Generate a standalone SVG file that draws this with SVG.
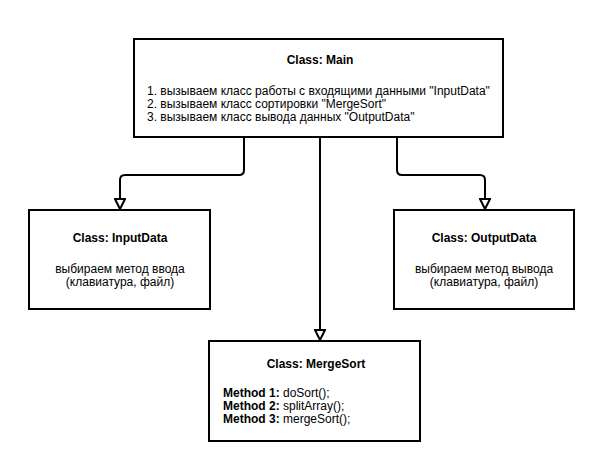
<svg xmlns="http://www.w3.org/2000/svg" width="601" height="461" viewBox="0 0 601 461">
<style>
.box{fill:#fff;stroke:#000;stroke-width:2}
text{font-family:"Liberation Sans",Arial,sans-serif;font-size:12px;fill:#000}
.t{font-weight:bold;text-anchor:middle}
.c{text-anchor:middle}
b,.b{font-weight:bold}
.conn{fill:none;stroke:#000;stroke-width:2;marker-end:url(#arr)}
</style>
<defs>
<marker id="arr" markerUnits="userSpaceOnUse" viewBox="0 0 12 12" markerWidth="12" markerHeight="12" refX="11" refY="6" orient="auto">
<path d="M1,1 L11,6 L1,11 Z" fill="#fff" stroke="#000" stroke-width="2" stroke-linejoin="miter"/>
</marker>
</defs>
<rect width="601" height="461" fill="#fff"/>
<g id="connectors">
<path class="conn" d="M244,138 V170 Q244,175 239,175 H125 Q120,175 120,180 V209"/>
<path class="conn" d="M320,138 V340"/>
<path class="conn" d="M397,138 V170 Q397,175 402,175 H480 Q485,175 485,180 V209"/>
</g>
<g id="main">
<rect class="box" x="134" y="39" width="369" height="98"/>
<text class="t" x="320" y="64">Class: Main</text>
<text x="147" y="95">1. вызываем класс работы с входящими данными "InputData"</text>
<text x="147" y="108">2. вызываем класс сортировки "MergeSort"</text>
<text x="147" y="121">3. вызываем класс вывода данных "OutputData"</text>
</g>
<g id="inputdata">
<rect class="box" x="29" y="210" width="181" height="99"/>
<text class="t" x="120" y="242">Class: InputData</text>
<text class="c" x="120" y="273">выбираем метод ввода</text>
<text class="c" x="120" y="286">(клавиатура, файл)</text>
</g>
<g id="outputdata">
<rect class="box" x="394" y="210" width="180" height="99"/>
<text class="t" x="484" y="242">Class: OutputData</text>
<text class="c" x="484" y="273">выбираем метод вывода</text>
<text class="c" x="484" y="286">(клавиатура, файл)</text>
</g>
<g id="mergesort">
<rect class="box" x="209" y="341" width="211" height="100"/>
<text class="t" x="316" y="368">Class: MergeSort</text>
<text x="223" y="397"><tspan class="b">Method 1:</tspan> doSort();</text>
<text x="223" y="410"><tspan class="b">Method 2:</tspan> splitArray();</text>
<text x="223" y="423"><tspan class="b">Method 3:</tspan> mergeSort();</text>
</g>
</svg>
